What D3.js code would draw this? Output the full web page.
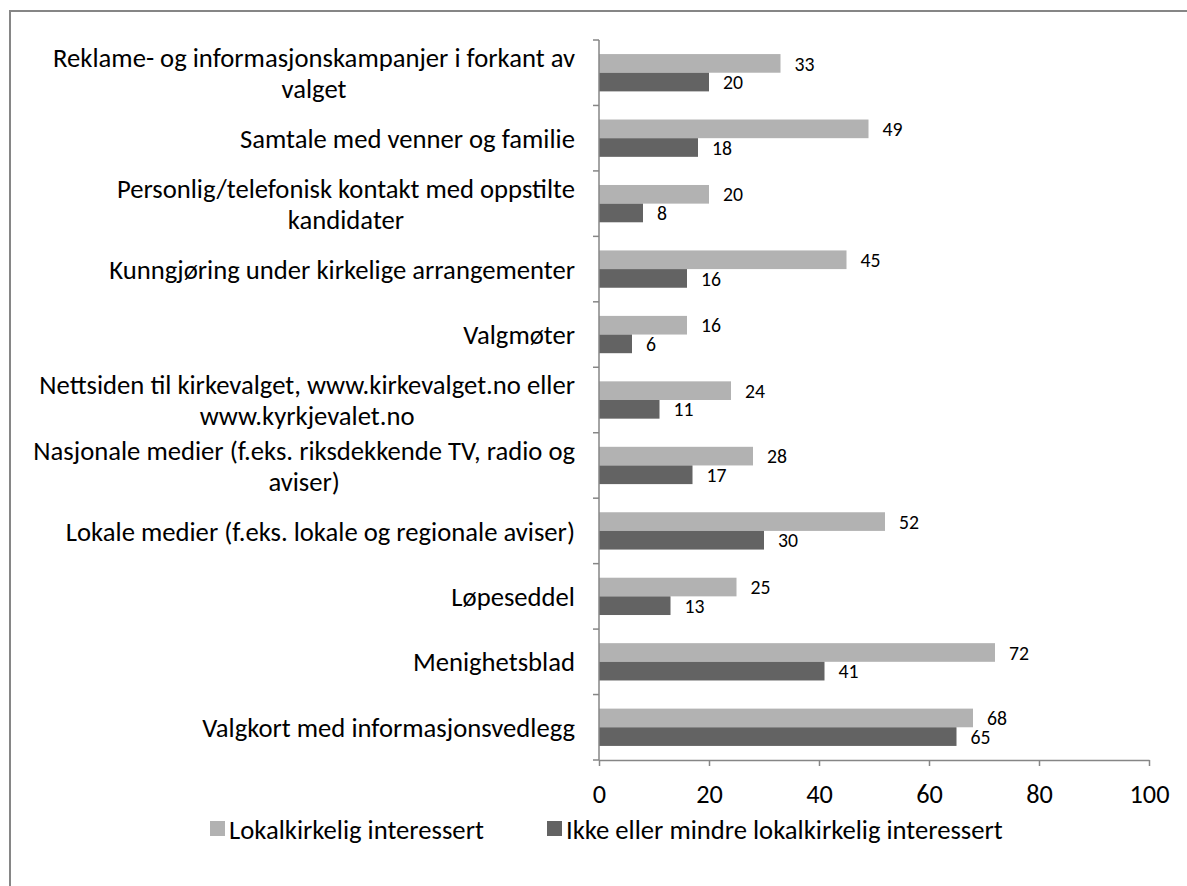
<!DOCTYPE html>
<html><head><meta charset="utf-8">
<script src="https://cdn.jsdelivr.net/npm/d3@7"></script>
<style>
body{margin:0;background:#fff;}
text{font-family: Carlito, Calibri, Lato, "Open Sans", sans-serif; fill:#000;}
</style>
</head><body>
<svg id="chart" width="1187" height="886"></svg>
<script>
const categories = [
  "Reklame- og informasjonskampanjer i forkant av\nvalget",
  "Samtale med venner og familie",
  "Personlig/telefonisk kontakt med oppstilte\nkandidater",
  "Kunngjøring under kirkelige arrangementer",
  "Valgmøter",
  "Nettsiden til kirkevalget, www.kirkevalget.no eller\nwww.kyrkjevalet.no",
  "Nasjonale medier (f.eks. riksdekkende TV, radio og\naviser)",
  "Lokale medier (f.eks. lokale og regionale aviser)",
  "Løpeseddel",
  "Menighetsblad",
  "Valgkort med informasjonsvedlegg"
];
const lokalValues = [33, 49, 20, 45, 16, 24, 28, 52, 25, 72, 68];
const ikkeValues  = [20, 18, 8, 16, 6, 11, 17, 30, 13, 41, 65];
const seriesNames = ["Lokalkirkelig interessert", "Ikke eller mindre lokalkirkelig interessert"];
const xTicks = [0, 20, 40, 60, 80, 100];

const colors = ["#b2b2b2", "#636363"];
const axisColor = "#868686";
const svg = d3.select("#chart");

function fitSize(str, target) {
  const t = svg.append("text").attr("font-size", 100).text(str);
  const w = t.node().getComputedTextLength();
  t.remove();
  return 100 * target / w;
}
const catFont = fitSize("Valgkort med informasjonsvedlegg", 373);
const tickFont = fitSize("100", 40);
const valFont = fitSize("16", 20);
const legFont = fitSize("Lokalkirkelig interessert", 255);

// outer border
svg.append("rect").attr("x", 10).attr("y", 11).attr("width", 1200).attr("height", 900)
  .attr("fill", "none").attr("stroke", axisColor).attr("stroke-width", 2);

const x = d3.scaleLinear().domain([0, 100]).range([599, 1149]);
const y = d3.scaleBand().domain(categories).range([40, 760]).paddingInner(0.43).paddingOuter(0.215);
const ySub = d3.scaleBand().domain([0, 1]).range([0, y.bandwidth()]);
const yEdge = d3.scaleBand().domain(categories).range([40, 760]).padding(0);

// bars
const series = [lokalValues, ikkeValues];
series.forEach((vals, si) => {
  const g = svg.append("g");
  g.selectAll("rect").data(categories).join("rect")
    .attr("x", x(0))
    .attr("y", (c) => y(c) + ySub(si))
    .attr("width", (c, i) => x(vals[i]) - x(0))
    .attr("height", ySub.bandwidth())
    .attr("fill", colors[si]);
  g.selectAll("text").data(categories).join("text")
    .attr("x", (c, i) => x(vals[i]) + 14)
    .attr("y", (c) => y(c) + ySub(si) + ySub.bandwidth() / 2)
    .attr("dy", "0.36em")
    .attr("font-size", valFont)
    .text((c, i) => vals[i]);
});

// x axis
const xAxis = d3.axisBottom(x).tickValues(xTicks).tickSize(6).tickSizeOuter(0).tickPadding(18);
const xg = svg.append("g").attr("transform", "translate(0,760)").call(xAxis);
xg.select(".domain").attr("stroke", axisColor).attr("stroke-width", 1.5);
xg.selectAll(".tick line").attr("stroke", axisColor).attr("stroke-width", 1.5);
xg.selectAll(".tick text").attr("font-size", tickFont).attr("font-family", null).attr("fill", "#000");

// y axis line and ticks at category boundaries
const yg = svg.append("g");
yg.append("line").attr("x1", x(0)).attr("x2", x(0)).attr("y1", yEdge.range()[0]).attr("y2", yEdge.range()[1])
  .attr("stroke", axisColor).attr("stroke-width", 1.5);
const edges = categories.map(c => yEdge(c)).concat([yEdge.range()[1]]);
yg.selectAll("line.tk").data(edges).join("line").attr("class", "tk")
  .attr("x1", x(0) - 6).attr("x2", x(0)).attr("y1", d => d).attr("y2", d => d)
  .attr("stroke", axisColor).attr("stroke-width", 1.5);

// category labels
const lineH = 31;
const labelRight = 575;
categories.forEach((c) => {
  const lines = c.split("\n");
  const cy = yEdge(c) + yEdge.bandwidth() / 2;
  const tmp = lines.map(l => {
    const t = svg.append("text").attr("font-size", catFont).text(l);
    const w = t.node().getComputedTextLength(); t.remove(); return w;
  });
  const maxW = d3.max(tmp);
  const cx = labelRight - maxW / 2;
  const t = svg.append("text").attr("font-size", catFont).attr("text-anchor", "middle");
  lines.forEach((l, i) => {
    t.append("tspan").attr("x", cx)
      .attr("y", cy + (i - (lines.length - 1) / 2) * lineH)
      .attr("dy", "0.36em").text(l);
  });
});

// legend
const legendY = 829;
const legX = [210, 547];
seriesNames.forEach((n, i) => {
  svg.append("rect").attr("x", legX[i]).attr("y", legendY - 8).attr("width", 15).attr("height", 15).attr("fill", colors[i]);
  svg.append("text").attr("x", legX[i] + 19).attr("y", legendY).attr("dy", "0.36em")
    .attr("font-size", legFont).text(n);
});
</script>
</body></html>
